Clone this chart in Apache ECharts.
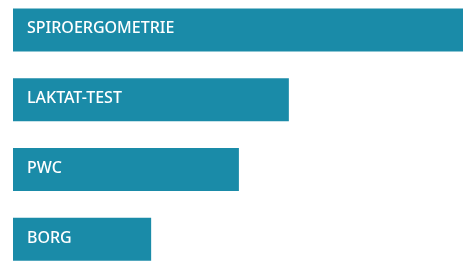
<!DOCTYPE html>
<html>
<head>
<meta charset="utf-8">
<script src="https://cdn.jsdelivr.net/npm/echarts@6/dist/echarts.min.js"></script>
<style>
  html, body { margin: 0; padding: 0; background: #fff; overflow: hidden; }
  #chart { position: absolute; left: 0; top: -5px; width: 463px; height: 279px; }
</style>
</head>
<body>
<div id="chart"></div>
<script>
// test names and relative bar lengths
var tests = ["SPIROERGOMETRIE", "LAKTAT-TEST", "PWC", "BORG"];
var scores = [100, 61.3, 50.2, 30.7];

var chart = echarts.init(document.getElementById("chart"));
chart.setOption({
  animation: false,
  grid: { left: 13, right: 0, top: 0, bottom: 0 },
  xAxis: { type: "value", min: 0, max: 100, show: false },
  yAxis: {
    type: "category",
    data: tests,
    inverse: true,
    show: false
  },
  series: [{
    type: "bar",
    data: scores,
    barWidth: 43,
    itemStyle: { color: "#1a8ba8" },
    label: {
      show: true,
      position: "insideLeft",
      distance: 14,
      offset: [0, -1],
      formatter: function(p) { return p.name; },
      color: "#fff",
      fontFamily: "Noto Sans",
      fontSize: 16,
      fontWeight: 500
    }
  }]
});
</script>
</body>
</html>
